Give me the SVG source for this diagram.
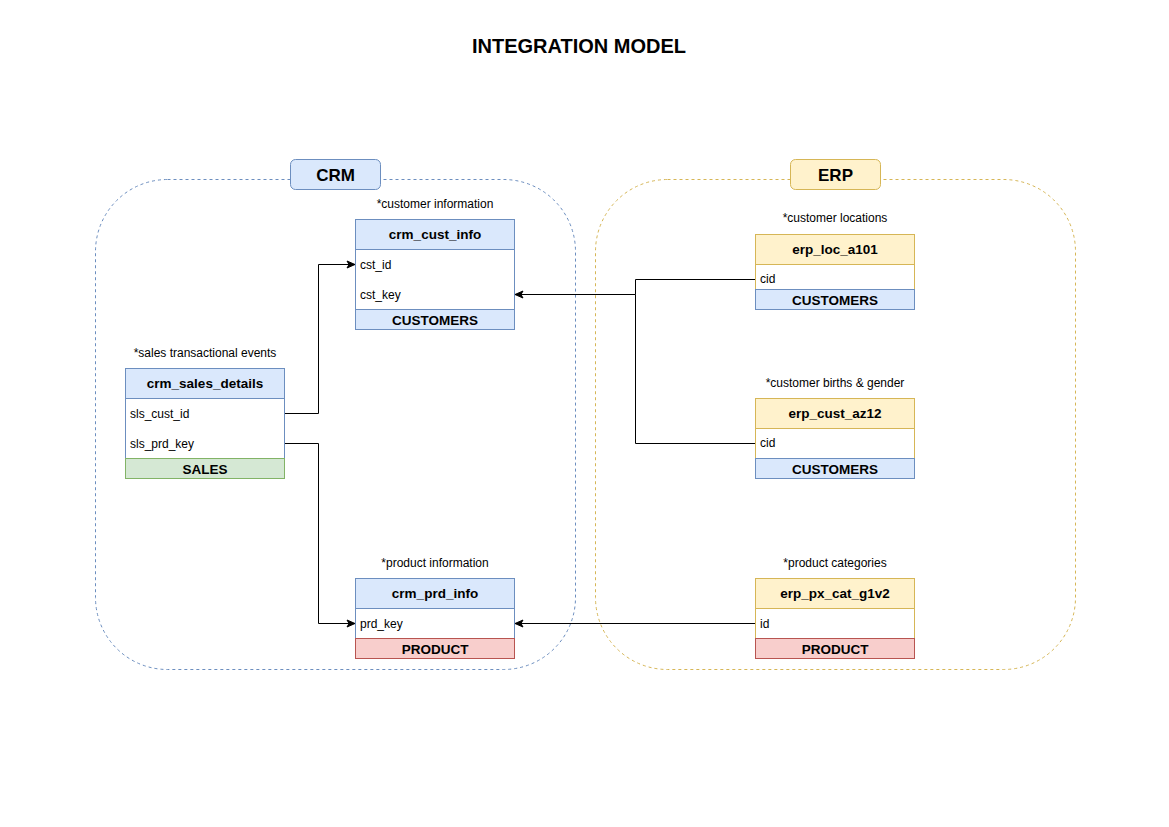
<svg xmlns="http://www.w3.org/2000/svg" width="1169" height="827" viewBox="0 0 1169 827">
<defs>
<marker id="arr" markerWidth="10" markerHeight="10" refX="9" refY="5" orient="auto" markerUnits="userSpaceOnUse">
<path d="M1,1.5 L9,5 L1,8.5 L3,5 Z" fill="#000" stroke="#000" stroke-width="1"/>
</marker>
</defs>
<style>
text{font-family:"Liberation Sans",Arial,sans-serif;fill:#000}
.title{font-size:20px;font-weight:bold}
.grp{font-size:17px;font-weight:bold}
.hd{font-size:13.5px;font-weight:bold}
.row{font-size:12px}
.note{font-size:12px}
.blue{fill:#dae8fc;stroke:#6c8ebf}
.yel{fill:#fff2cc;stroke:#d6b656}
.grn{fill:#d5e8d4;stroke:#82b366}
.red{fill:#f8cecc;stroke:#b85450}
.wb{fill:#fff;stroke:#6c8ebf}
.wy{fill:#fff;stroke:#d6b656}
.cont{fill:none;stroke-dasharray:3 3}
.conn{fill:none;stroke:#000;stroke-width:1}
</style>
<rect width="1169" height="827" fill="#fff"/>
<text class="title" x="579" y="53" text-anchor="middle">INTEGRATION MODEL</text>

<g id="crm-container">
<rect class="cont" x="95.5" y="179.5" width="480" height="490" rx="72" stroke="#6c8ebf"/>
</g>
<g id="erp-container">
<rect class="cont" x="595.5" y="179.5" width="480" height="490" rx="72" stroke="#d6b656"/>
</g>
<g id="crm-label">
<rect class="blue" x="290.5" y="159.5" width="90" height="30" rx="5"/>
<text class="grp" x="335.5" y="180.5" text-anchor="middle">CRM</text>
</g>
<g id="erp-label">
<rect class="yel" x="790.5" y="159.5" width="90" height="30" rx="5"/>
<text class="grp" x="835.5" y="180.5" text-anchor="middle">ERP</text>
</g>

<g id="crm_cust_info">
<text class="note" x="435" y="208" text-anchor="middle">*customer information</text>
<rect class="blue" x="355.5" y="219.5" width="159" height="30"/>
<rect class="wb" x="355.5" y="249.5" width="159" height="60"/>
<rect class="blue" x="355.5" y="309.5" width="159" height="20"/>
<text class="hd" x="435" y="239" text-anchor="middle">crm_cust_info</text>
<text class="row" x="360" y="268.5">cst_id</text>
<text class="row" x="360" y="298.5">cst_key</text>
<text class="hd" x="435" y="324.5" text-anchor="middle">CUSTOMERS</text>
</g>

<g id="crm_sales_details">
<text class="note" x="205" y="357" text-anchor="middle">*sales transactional events</text>
<rect class="blue" x="125.5" y="368.5" width="159" height="30"/>
<rect class="wb" x="125.5" y="398.5" width="159" height="60"/>
<rect class="grn" x="125.5" y="458.5" width="159" height="20"/>
<text class="hd" x="205" y="388" text-anchor="middle">crm_sales_details</text>
<text class="row" x="130" y="417.5">sls_cust_id</text>
<text class="row" x="130" y="447.5">sls_prd_key</text>
<text class="hd" x="205" y="473.5" text-anchor="middle">SALES</text>
</g>

<g id="crm_prd_info">
<text class="note" x="435" y="567" text-anchor="middle">*product information</text>
<rect class="blue" x="355.5" y="578.5" width="159" height="30"/>
<rect class="wb" x="355.5" y="608.5" width="159" height="30"/>
<rect class="red" x="355.5" y="638.5" width="159" height="20"/>
<text class="hd" x="435" y="598" text-anchor="middle">crm_prd_info</text>
<text class="row" x="360" y="627.5">prd_key</text>
<text class="hd" x="435" y="653.5" text-anchor="middle">PRODUCT</text>
</g>

<g id="erp_loc_a101">
<text class="note" x="835" y="222" text-anchor="middle">*customer locations</text>
<rect class="yel" x="755.5" y="234.5" width="159" height="30"/>
<rect class="wy" x="755.5" y="264.5" width="159" height="25"/>
<rect class="blue" x="755.5" y="289.5" width="159" height="20"/>
<text class="hd" x="835" y="254" text-anchor="middle">erp_loc_a101</text>
<text class="row" x="760" y="283">cid</text>
<text class="hd" x="835" y="304.5" text-anchor="middle">CUSTOMERS</text>
</g>

<g id="erp_cust_az12">
<text class="note" x="835" y="387" text-anchor="middle">*customer births &amp; gender</text>
<rect class="yel" x="755.5" y="398.5" width="159" height="30"/>
<rect class="wy" x="755.5" y="428.5" width="159" height="30"/>
<rect class="blue" x="755.5" y="458.5" width="159" height="20"/>
<text class="hd" x="835" y="418" text-anchor="middle">erp_cust_az12</text>
<text class="row" x="760" y="447">cid</text>
<text class="hd" x="835" y="473.5" text-anchor="middle">CUSTOMERS</text>
</g>

<g id="erp_px_cat_g1v2">
<text class="note" x="835" y="567" text-anchor="middle">*product categories</text>
<rect class="yel" x="755.5" y="578.5" width="159" height="30"/>
<rect class="wy" x="755.5" y="608.5" width="159" height="30"/>
<rect class="red" x="755.5" y="638.5" width="159" height="20"/>
<text class="hd" x="835" y="598" text-anchor="middle">erp_px_cat_g1v2</text>
<text class="row" x="760" y="627.5">id</text>
<text class="hd" x="835" y="653.5" text-anchor="middle">PRODUCT</text>
</g>

<g id="connectors">
<path class="conn" d="M285,413.5 H318.5 V264.5 H355" marker-end="url(#arr)"/>
<path class="conn" d="M285,443.5 H318.5 V623.5 H355" marker-end="url(#arr)"/>
<path class="conn" d="M755,279.5 H635.5 V294.5 H515" marker-end="url(#arr)"/>
<path class="conn" d="M755,443.5 H635.5 V294.5"/>
<path class="conn" d="M755,623.5 H515" marker-end="url(#arr)"/>
</g>
</svg>
